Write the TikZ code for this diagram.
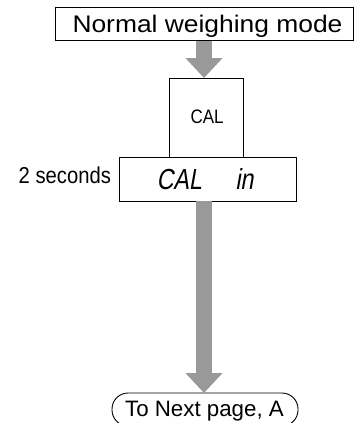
\documentclass[tikz,border=0pt]{standalone}
\usepackage{fontspec}
\setmainfont{Liberation Sans}
\newfontfamily\lcdfont{Liberation Sans}[FakeSlant=0.22]
\usetikzlibrary{arrows.meta}
\definecolor{arrowgray}{RGB}{153,153,153}
\tikzset{
  box/.style={draw=black, line width=0.9pt, rectangle, inner sep=0pt, outer sep=0pt},
  bigarrow/.style={draw=arrowgray, line width=16pt, -{Triangle[width=36pt, length=20pt]}},
  basetext/.style={inner sep=0pt, outer sep=0pt, anchor=base}
}
\begin{document}
\begin{tikzpicture}[x=1pt, y=-1pt]
  \useasboundingbox (0,0) rectangle (358,423);
  % top box
  \node[box, minimum width=298pt, minimum height=33.7pt] (top) at (204,23.9) {};
  \node[basetext, font=\fontsize{24}{27}\selectfont] (toptext) at (207.5,32.5)
    {\scalebox{1.1}[1]{Normal weighing mode}};
  % CAL key
  \node[box, minimum width=74pt, minimum height=79pt] (cal) at (206,117.5) {};
  \node[basetext, font=\fontsize{19.5}{22}\selectfont] (caltext) at (207,123.3)
    {\scalebox{0.87}[1]{CAL}};
  % display
  \node[box, minimum width=177pt, minimum height=44pt] (disp) at (207.5,179) {};
  \node[basetext, font=\lcdfont\fontsize{29}{32}\selectfont] (disptext) at (205,189)
    {\scalebox{0.8}[1]{CAL\hspace{42pt}in}};
  \node[basetext, anchor=base east, font=\fontsize{23}{26}\selectfont] (sec) at (111,183.3)
    {\scalebox{0.88}[1]{2 seconds}};
  % next page oval
  \node[draw=black, line width=0.9pt, rounded corners=16pt, minimum width=186pt, minimum height=33pt,
        inner sep=0pt, outer sep=0pt] (oval) at (205,409.5) {};
  \node[basetext, font=\fontsize{22.3}{25}\selectfont] (ovaltext) at (204.5,416)
    {To Next page, A};
  % arrows
  \draw[bigarrow] (top.south) -- (top.south |- cal.north);
  \draw[bigarrow] (top.south |- disp.south) -- (top.south |- oval.north);
\end{tikzpicture}
\end{document}
